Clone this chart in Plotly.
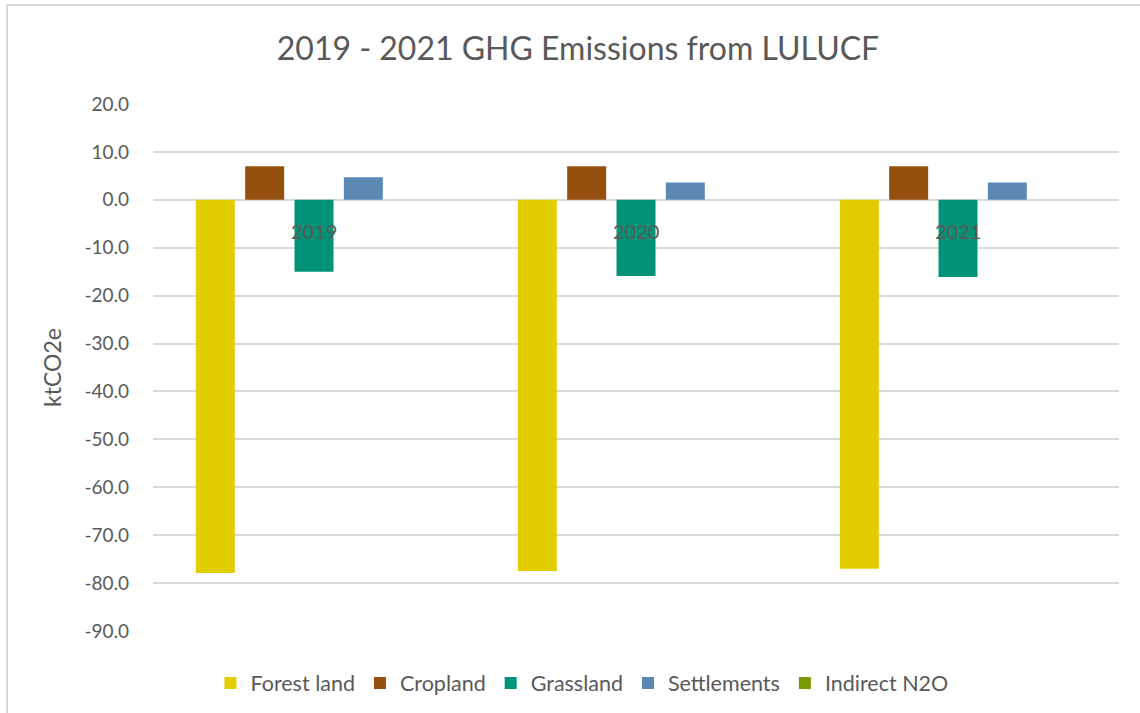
import plotly.graph_objects as go

years = ["2019", "2020", "2021"]
series_names = ["Forest land", "Cropland", "Grassland", "Settlements", "Indirect N2O"]
forest_land = [-77.9, -77.5, -77.0]
cropland = [7.0, 7.0, 7.0]
grassland = [-15.0, -15.9, -16.1]
settlements = [4.7, 3.6, 3.6]
indirect_n2o = [0.0, 0.0, 0.0]
colors = ["#E2CD00", "#954F0E", "#009377", "#5B89B4", "#7A9A01"]
y_ticks = [20, 10, 0, -10, -20, -30, -40, -50, -60, -70, -80, -90]
y_tick_labels = ["%.1f" % v for v in y_ticks]

values = [forest_land, cropland, grassland, settlements, indirect_n2o]
FONT = "Lato"
GREY = "#595959"

fig = go.Figure()
for name, vals, col in zip(series_names, values, colors):
    fig.add_trace(go.Bar(x=years, y=vals, name=name, marker=dict(color=col, line=dict(width=0))))

# category labels drawn at the zero line (Excel-style axis crossing at 0)
for i, yr in enumerate(years):
    fig.add_annotation(x=i, y=0, xref="x", yref="y", text=yr, showarrow=False,
                       yshift=-31, font=dict(family=FONT, size=20, color=GREY))

fig.update_layout(
    width=1140, height=713,
    margin=dict(l=153, r=21, t=104, b=82),
    paper_bgcolor="white", plot_bgcolor="white",
    barmode="group", bargap=0.234, bargroupgap=0.21,
    title=dict(text="2019 - 2021 GHG Emissions from LULUCF", x=0.507, xanchor="center",
               y=0.932, yanchor="middle", font=dict(family=FONT, size=32, color=GREY)),
    font=dict(family=FONT, color=GREY),
    showlegend=True,
    legend=dict(orientation="h", xref="container", yref="container",
                x=0.5105, xanchor="center", y=0.042, yanchor="middle",
                font=dict(family=FONT, size=21.5, color=GREY), itemwidth=30,
                traceorder="normal"),
    xaxis=dict(type="category", range=[-0.5, len(years) - 0.5], showticklabels=False,
               showgrid=False, zeroline=False, showline=False, ticks=""),
    yaxis=dict(range=[-90, 20], tickvals=y_ticks, ticktext=y_tick_labels,
               showgrid=True, gridcolor="#D9D9D9", gridwidth=1.5,
               zeroline=True, zerolinecolor="#D9D9D9", zerolinewidth=1.5,
               showline=False, ticks="", ticklabelstandoff=23,
               tickfont=dict(family=FONT, size=19, color=GREY),
               title=dict(text="ktCO2e", font=dict(family=FONT, size=23, color=GREY), standoff=16)),
)

# outer chart border (light grey frame)
fig.add_shape(type="rect", xref="paper", yref="paper",
              x0=-146/966, x1=1.04, y0=-0.2, y1=1 + 99/526.5,
              line=dict(color="#D9D9D9", width=2), fillcolor="rgba(0,0,0,0)", layer="below")

fig.write_html("out.html", config={"displayModeBar": False},
               post_script="document.body.style.margin='0';document.body.style.padding='0';")
